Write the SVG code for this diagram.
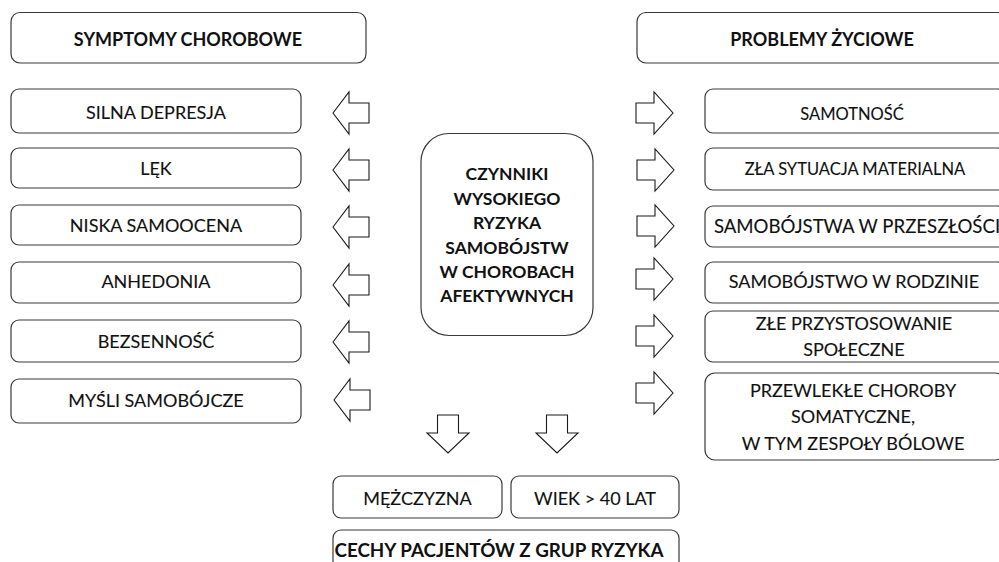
<svg xmlns="http://www.w3.org/2000/svg" width="999" height="562" viewBox="0 0 999 562">
  <style>
    .box { fill: #ffffff; stroke: #3a3a3a; stroke-width: 1.2; }
    .arrow { fill: #ffffff; stroke: #1a1a1a; stroke-width: 1.1; stroke-linejoin: miter; }
    text { font-family: Lato, "Open Sans", "Liberation Sans", sans-serif; fill: #111111; text-anchor: middle; }
    .t { font-size: 18px; stroke: #111111; stroke-width: 0.12; }
    .ts { font-size: 16.5px; stroke: #111111; stroke-width: 0.1; }
    .b { font-size: 17.5px; font-weight: bold; }
    .bh { font-size: 18px; font-weight: bold; }
    .bl { font-size: 18.8px; font-weight: bold; }
  </style>
  <defs>
    <polygon id="arrL" class="arrow" points="0,0 16,-21 16,-10 36,-10 36,10 16,10 16,21"/>
    <polygon id="arrR" class="arrow" points="0,-10 18,-10 18,-21 37,0 18,21 18,10 0,10"/>
    <polygon id="arrD" class="arrow" points="-10.5,0 10.5,0 10.5,18 21,18 0,38 -21,18 -10.5,18"/>
  </defs>
  <rect width="999" height="562" fill="#ffffff"/>

  <!-- section headers -->
  <g id="hdr-symptomy">
    <rect class="box" x="11" y="12.5" width="355" height="50.5" rx="9"/>
    <text class="bh" x="188" y="46">SYMPTOMY CHOROBOWE</text>
  </g>
  <g id="hdr-problemy">
    <rect class="box" x="637" y="12.5" width="370" height="50.5" rx="9"/>
    <text class="bh" x="822" y="46">PROBLEMY ŻYCIOWE</text>
  </g>

  <!-- central node -->
  <g id="center">
    <rect class="box" x="421" y="133.5" width="172" height="202" rx="28"/>
    <text class="b" x="507" y="180">CZYNNIKI</text>
    <text class="b" x="507" y="204.5">WYSOKIEGO</text>
    <text class="b" x="507" y="229">RYZYKA</text>
    <text class="b" x="507" y="253.5">SAMOBÓJSTW</text>
    <text class="b" x="507" y="278">W CHOROBACH</text>
    <text class="b" x="507" y="302">AFEKTYWNYCH</text>
  </g>

  <!-- disease symptoms -->
  <g id="s1"><rect class="box" x="11" y="89" width="290" height="44" rx="8"/><text class="t" x="156" y="119">SILNA DEPRESJA</text></g>
  <g id="s2"><rect class="box" x="11" y="148" width="290" height="40" rx="8"/><text class="t" x="156" y="175">LĘK</text></g>
  <g id="s3"><rect class="box" x="11" y="205" width="290" height="40" rx="8"/><text class="t" x="156" y="232">NISKA SAMOOCENA</text></g>
  <g id="s4"><rect class="box" x="11" y="262" width="290" height="41" rx="8"/><text class="t" x="156" y="288">ANHEDONIA</text></g>
  <g id="s5"><rect class="box" x="11" y="320" width="290" height="42" rx="8"/><text class="t" x="156" y="348">BEZSENNOŚĆ</text></g>
  <g id="s6"><rect class="box" x="11" y="379" width="290" height="44" rx="8"/><text class="t" x="156" y="407">MYŚLI SAMOBÓJCZE</text></g>

  <!-- life problems -->
  <g id="p1"><rect class="box" x="705" y="89" width="300" height="44" rx="8"/><text class="ts" x="852" y="120">SAMOTNOŚĆ</text></g>
  <g id="p2"><rect class="box" x="705" y="148" width="300" height="42" rx="8"/><text class="ts" x="855" y="175">ZŁA SYTUACJA MATERIALNA</text></g>
  <g id="p3"><rect class="box" x="705" y="206" width="300" height="41" rx="8"/><text class="t" x="857" y="233" style="font-size:18.6px">SAMOBÓJSTWA W PRZESZŁOŚCI</text></g>
  <g id="p4"><rect class="box" x="705" y="262" width="300" height="41" rx="8"/><text class="t" x="854" y="288">SAMOBÓJSTWO W RODZINIE</text></g>
  <g id="p5"><rect class="box" x="705" y="311" width="300" height="51" rx="8"/><text class="t" x="854" y="330">ZŁE PRZYSTOSOWANIE</text><text class="t" x="854" y="356">SPOŁECZNE</text></g>
  <g id="p6"><rect class="box" x="705" y="373" width="300" height="87" rx="10"/><text class="t" x="853" y="397">PRZEWLEKŁE CHOROBY</text><text class="t" x="853" y="423">SOMATYCZNE,</text><text class="t" x="853" y="450">W TYM ZESPOŁY BÓLOWE</text></g>

  <!-- patient traits -->
  <g id="m"><rect class="box" x="333" y="476" width="169" height="42" rx="8"/><text class="t" x="417.5" y="505">MĘŻCZYZNA</text></g>
  <g id="w"><rect class="box" x="511" y="476" width="168" height="42" rx="8"/><text class="t" x="595" y="505">WIEK &gt; 40 LAT</text></g>
  <g id="cechy"><rect class="box" x="333" y="530" width="346" height="45" rx="8"/><text class="bl" x="499" y="557">CECHY PACJENTÓW Z GRUP RYZYKA</text></g>

  <!-- connectors -->
  <g id="connectors">
    <use href="#arrL" x="333" y="113"/>
    <use href="#arrL" x="333" y="170"/>
    <use href="#arrL" x="333" y="227"/>
    <use href="#arrL" x="333" y="285"/>
    <use href="#arrL" x="333" y="342"/>
    <use href="#arrL" x="334" y="400"/>
    <use href="#arrR" x="636" y="113"/>
    <use href="#arrR" x="637" y="170"/>
    <use href="#arrR" x="637" y="226"/>
    <use href="#arrR" x="636" y="279"/>
    <use href="#arrR" x="636" y="336"/>
    <use href="#arrR" x="636" y="393"/>
    <use href="#arrD" x="448" y="415"/>
    <use href="#arrD" x="557" y="415"/>
  </g>
</svg>
